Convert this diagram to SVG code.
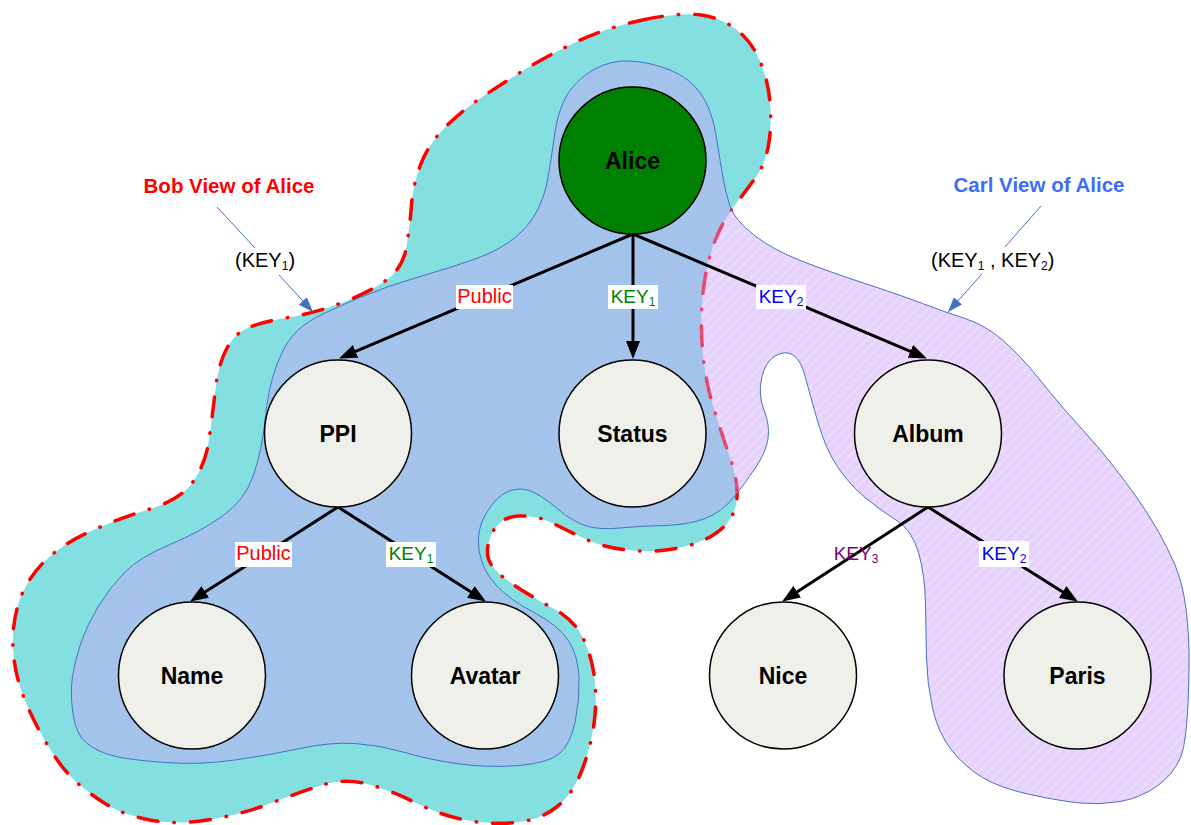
<svg xmlns="http://www.w3.org/2000/svg" width="1191" height="825" viewBox="0 0 1191 825">
  <defs>
    <style>
      .node { fill: #F0F0EA; stroke: #000; stroke-width: 1.5; }
      .nlabel { font-family: "Liberation Sans", Arial, sans-serif; font-weight: bold; font-size: 23px; fill: #000; text-anchor: middle; }
      .edge { stroke: #000; stroke-width: 3; fill: none; marker-end: url(#arrow); }
      .elabel { font-family: "Liberation Sans", Arial, sans-serif; font-size: 20px; }
      .key { font-family: "Liberation Sans", Arial, sans-serif; font-size: 19px; }
      .ckey { font-family: "Liberation Sans", Arial, sans-serif; font-size: 20px; }
      .sub { font-size: 12px; }
      .lblbg { fill: #fff; }
      .call { stroke: #4472C4; stroke-width: 1; fill: none; }
      .title { font-family: "Liberation Sans", Arial, sans-serif; font-weight: bold; font-size: 20.5px; }
    </style>
    <pattern id="carlHatch" width="7" height="7" patternUnits="userSpaceOnUse" patternTransform="rotate(45)">
      <rect width="5.5" height="7" fill="#CAA0F8" fill-opacity="0.48"/>
      <rect x="5.5" width="1.5" height="7" fill="#CAA0F8" fill-opacity="0.34"/>
    </pattern>
    <marker id="arrow" viewBox="0 0 18 14" refX="11" refY="7" markerWidth="18" markerHeight="14" markerUnits="userSpaceOnUse" orient="auto">
      <path d="M0,0 L18,7 L0,14 Z" fill="#000"/>
    </marker>
    <marker id="callArrow" viewBox="0 0 15 11" refX="15" refY="5.5" markerWidth="15" markerHeight="11" markerUnits="userSpaceOnUse" orient="auto">
      <path d="M0,0 L15,5.5 L0,11 Z" fill="#4472C4"/>
    </marker>
  </defs>

  <rect width="1191" height="825" fill="#fff"/>

  <!-- Bob's view region -->
  <g id="bob-view">
    <path fill="#84E0E0" stroke="#FF0000" stroke-width="3.5" stroke-linecap="round" stroke-dasharray="20 16 0.5 16"
      d="M642.5,20 Q680,12 701,15 Q722,18 737,30 Q752,42 760,61 Q768,80 770,102.5 Q772,125 768.5,145 Q765,165 755,178.5 Q745,192 733.5,207 Q722,222 714,243.5 Q706,265 703,292.5 Q700,320 702.5,350 Q705,380 713.5,407.5 Q722,435 730,457.5 Q738,480 737,497.5 Q736,515 723,527.5 Q710,540 685,546.5 Q660,553 632.5,550.5 Q605,548 587.5,540 Q570,532 553.5,523.5 Q537,515 518.5,516 Q500,517 492.5,532.5 Q485,548 488.5,559 Q492,570 511,583 Q530,596 552.5,608 Q575,620 584,640 Q593,660 595,682.5 Q597,705 593.5,727.5 Q590,750 581,772.5 Q572,795 556,807.5 Q540,820 515,822.5 Q490,825 465,820 Q440,815 415,802.5 Q390,790 367.5,784 Q345,778 322.5,785 Q300,792 270,803.5 Q240,815 207.5,820 Q175,825 150,820 Q125,815 110,806.5 Q95,798 78.5,784 Q62,770 46,742.5 Q30,715 22,692.5 Q14,670 13,647.5 Q12,625 18.5,603.5 Q25,582 42.5,563.5 Q60,545 90,531.5 Q120,518 150,509 Q180,500 192.5,482.5 Q205,465 208.5,442.5 Q212,420 215,392.5 Q218,365 226.5,349 Q235,333 248.5,327.5 Q262,322 288.5,317.5 Q315,313 342.5,302.5 Q370,292 386.5,280 Q403,268 406.5,246.5 Q410,225 411.5,205 Q413,185 420.5,165 Q428,145 444,128.5 Q460,112 480,98.5 Q500,85 522.5,71 Q545,57 575,42.5 Q605,28 642.5,20 Z"/>
  </g>

  <!-- Carl's view region -->
  <g id="carl-view">
    <path fill="url(#carlHatch)" stroke="#4472C4" stroke-width="1"
      d="M593,70 Q610,60 630,61 Q650,62 670,70 Q690,78 701,94 Q712,110 716,135 Q720,160 723,177.5 Q726,195 730.5,207.5 Q735,220 754,235 Q773,250 801.5,261 Q830,272 865,283.5 Q900,295 922.5,303.5 Q945,312 965,318.5 Q985,325 1002.5,340 Q1020,355 1040,380 Q1060,405 1085,432.5 Q1110,460 1135,495 Q1160,530 1175,565 Q1190,600 1189,670 Q1188,740 1180.5,757.5 Q1173,775 1156.5,786.5 Q1140,798 1120,801.5 Q1100,805 1080,803 Q1060,801 1030,794.5 Q1000,788 982.5,777.5 Q965,767 951.5,750 Q938,733 932.5,708 Q927,683 926.5,658 Q926,633 925.5,604 Q925,575 918.5,552.5 Q912,530 896,520 Q880,510 865,497.5 Q850,485 838,467.5 Q826,450 818,422.5 Q810,395 805.5,377.5 Q801,360 793,355 Q785,350 775,356 Q765,362 761.5,378.5 Q758,395 764,410 Q770,425 768,438.5 Q766,452 756,467 Q746,482 734,497 Q722,512 705,518.5 Q688,525 664,525.5 Q640,526 620,528 Q600,530 586.5,526 Q573,522 556.5,508 Q540,494 529,490.5 Q518,487 507,492 Q496,497 486,513.5 Q476,530 479,550 Q482,570 496,585 Q510,600 534,612.5 Q558,625 568,640 Q578,655 579,677.5 Q580,700 575,722.5 Q570,745 559,754 Q548,763 519,765.5 Q490,768 460,764 Q430,760 405,752.5 Q380,745 355,743.5 Q330,742 300,748.5 Q270,755 235,760 Q200,765 165,762.5 Q130,760 114,756 Q98,752 87,743.5 Q76,735 73,714 Q70,693 72.5,676.5 Q75,660 81,642.5 Q87,625 98.5,606 Q110,587 125,572 Q140,557 170,544.5 Q200,532 222.5,516 Q245,500 253.5,475 Q262,450 265,420 Q268,390 275.5,368.5 Q283,347 292.5,336 Q302,325 316,317.5 Q330,310 360,297.5 Q390,285 420,276.5 Q450,268 475,259 Q500,250 515,237.5 Q530,225 537.5,210 Q545,195 548,177.5 Q551,160 554.5,135 Q558,110 567,95 Q576,80 593,70 Z"/>
  </g>

  <!-- view callouts -->
  <g id="bob-callout">
    <text class="title" x="229" y="193" text-anchor="middle" fill="#FF0000">Bob View of Alice</text>
    <line class="call" x1="217" y1="207" x2="255" y2="248"/>
    <text class="ckey" x="235" y="267" fill="#000">(KEY<tspan class="sub" dy="3">1</tspan><tspan dy="-3">)</tspan></text>
    <line class="call" x1="279" y1="275" x2="313" y2="312" marker-end="url(#callArrow)"/>
  </g>
  <g id="carl-callout">
    <text class="title" x="1039" y="192" text-anchor="middle" fill="#3D6EF5">Carl View of Alice</text>
    <line class="call" x1="1041" y1="206" x2="1005" y2="247"/>
    <text class="ckey" x="931" y="267" fill="#000">(KEY<tspan class="sub" dy="3">1</tspan><tspan dy="-3"> , KEY</tspan><tspan class="sub" dy="3">2</tspan><tspan dy="-3">)</tspan></text>
    <line class="call" x1="982" y1="274" x2="948" y2="312" marker-end="url(#callArrow)"/>
  </g>

  <!-- connectors -->
  <g id="connectors">
    <line class="edge" x1="633" y1="234" x2="345.5" y2="355.7"/>
    <line class="edge" x1="633" y1="234" x2="633" y2="352"/>
    <line class="edge" x1="633" y1="234" x2="920.5" y2="355.7"/>
    <line class="edge" x1="338" y1="507" x2="196" y2="597.8"/>
    <line class="edge" x1="338" y1="507" x2="480" y2="597.8"/>
    <line class="edge" x1="928" y1="507" x2="788" y2="597.7"/>
    <line class="edge" x1="928" y1="507" x2="1071.9" y2="597.8"/>

    <g id="lbl-alice-ppi">
      <rect class="lblbg" x="456" y="285" width="57" height="24"/>
      <text class="elabel" x="484.5" y="303" text-anchor="middle" fill="#FF0000">Public</text>
    </g>
    <g id="lbl-alice-status">
      <rect class="lblbg" x="608" y="285" width="50" height="24"/>
      <text class="key" x="633" y="303" text-anchor="middle" fill="#008000">KEY<tspan class="sub" dy="3">1</tspan></text>
    </g>
    <g id="lbl-alice-album">
      <rect class="lblbg" x="756" y="285" width="50" height="24"/>
      <text class="key" x="781" y="303" text-anchor="middle" fill="#0000FF">KEY<tspan class="sub" dy="3">2</tspan></text>
    </g>
    <g id="lbl-ppi-name">
      <rect class="lblbg" x="235" y="542" width="57" height="25"/>
      <text class="elabel" x="263.5" y="560" text-anchor="middle" fill="#FF0000">Public</text>
    </g>
    <g id="lbl-ppi-avatar">
      <rect class="lblbg" x="386" y="542" width="50" height="25"/>
      <text class="key" x="411" y="560" text-anchor="middle" fill="#008000">KEY<tspan class="sub" dy="3">1</tspan></text>
    </g>
    <g id="lbl-album-nice">
      <text class="key" x="856" y="560" text-anchor="middle" fill="#800080">KEY<tspan class="sub" dy="3">3</tspan></text>
    </g>
    <g id="lbl-album-paris">
      <rect class="lblbg" x="979" y="541" width="50" height="26"/>
      <text class="key" x="1004" y="560" text-anchor="middle" fill="#0000FF">KEY<tspan class="sub" dy="3">2</tspan></text>
    </g>
  </g>

  <!-- nodes -->
  <g id="alice">
    <circle cx="632.5" cy="160.5" r="73.5" fill="#008000" stroke="#000" stroke-width="1.5"/>
    <text class="nlabel" x="632.5" y="168.5">Alice</text>
  </g>
  <g id="ppi">
    <circle class="node" cx="338" cy="433.5" r="73.5"/>
    <text class="nlabel" x="338" y="441.5">PPI</text>
  </g>
  <g id="status">
    <circle class="node" cx="632.5" cy="433.5" r="73.5"/>
    <text class="nlabel" x="632.5" y="441.5">Status</text>
  </g>
  <g id="album">
    <circle class="node" cx="928" cy="433.5" r="73.5"/>
    <text class="nlabel" x="928" y="441.5">Album</text>
  </g>
  <g id="name">
    <circle class="node" cx="192" cy="675.5" r="73.5"/>
    <text class="nlabel" x="192" y="683.5">Name</text>
  </g>
  <g id="avatar">
    <circle class="node" cx="485" cy="675.5" r="73.5"/>
    <text class="nlabel" x="485" y="683.5">Avatar</text>
  </g>
  <g id="nice">
    <circle class="node" cx="783" cy="675.5" r="73.5"/>
    <text class="nlabel" x="783" y="683.5">Nice</text>
  </g>
  <g id="paris">
    <circle class="node" cx="1077.5" cy="675.5" r="73.5"/>
    <text class="nlabel" x="1077.5" y="683.5">Paris</text>
  </g>
</svg>
